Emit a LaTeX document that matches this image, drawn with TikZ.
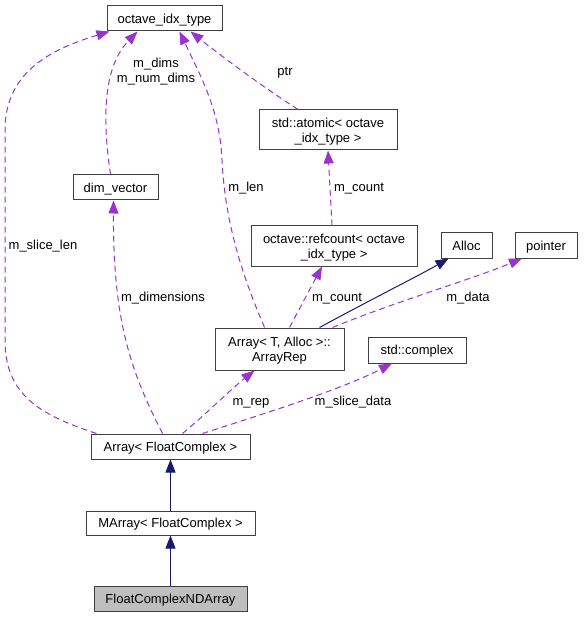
\documentclass[tikz,border=0pt]{standalone}
\usepackage{fontspec}
\setmainfont{Liberation Sans}
\usetikzlibrary{arrows.meta}
\definecolor{membercol}{HTML}{9A32CD}
\definecolor{basecol}{HTML}{191970}
\begin{document}
\begin{tikzpicture}[x=1pt, y=-1pt,
  box/.style={draw=black!75, line width=1pt, fill=white, inner sep=0pt, align=center, font=\fontsize{13}{15}\selectfont, text height=9.5pt, text depth=0pt},
  twoline/.style={text height=24.5pt, text depth=0pt},
  lbl/.style={inner sep=0pt, align=center, font=\fontsize{13}{15}\selectfont, text height=9.5pt, text depth=0pt},
  member/.style={draw=membercol, line width=1pt, dash pattern=on 6pt off 4pt, -{Triangle[length=13pt, width=10pt, fill=membercol]}},
  derived/.style={draw=basecol, line width=1pt, -{Triangle[length=13pt, width=10pt, fill=basecol]}}]
\useasboundingbox (0,0) rectangle (583,617);
\node[box, minimum width=115, minimum height=25] (idx) at (164.5, 18.5) {octave\_idx\_type};
\node[box, twoline, minimum width=138, minimum height=40] (atomic) at (328, 130) {std::atomic< octave\\\_idx\_type >};
\node[box, minimum width=85, minimum height=25] (dimv) at (115.5, 187.5) {dim\_vector};
\node[box, twoline, minimum width=166, minimum height=40] (refc) at (334, 246) {octave::refcount< octave\\\_idx\_type >};
\node[box, minimum width=51, minimum height=25] (alloc) at (466.5, 245.5) {Alloc};
\node[box, minimum width=62, minimum height=25] (ptrn) at (546, 245.5) {pointer};
\node[box, twoline, minimum width=129, minimum height=42] (rep) at (279.5, 349) {Array< T, Alloc >::\\ArrayRep};
\node[box, minimum width=98, minimum height=26] (cplx) at (417, 350) {std::complex};
\node[box, minimum width=159, minimum height=25] (arr) at (170.5, 446.5) {Array< FloatComplex >};
\node[box, minimum width=169, minimum height=24] (marr) at (170.5, 523) {MArray< FloatComplex >};
\node[box, minimum width=153, minimum height=25, fill=black!25] (nda) at (170.5, 598.5) {FloatComplexNDArray};
\draw[member] ([xshift=6]arr.north west) .. controls (40,415) and (5,395) .. (5,340) -- (5,130) .. controls (5,70) and (55,48) .. ([xshift=3]idx.south west);
\draw[member] ([xshift=-5]dimv.north) .. controls (104,130) and (100,70) .. ([xshift=-27]idx.south);
\draw[member] ([xshift=-15]rep.north) .. controls (240,270) and (225,220) .. (222,160) .. controls (220,110) and (200,75) .. ([xshift=15]idx.south);
\draw[member] ([xshift=-30]atomic.north) .. controls (260,85) and (220,55) .. ([xshift=26]idx.south);
\draw[member] ([xshift=-2]refc.north) -- (atomic.south);
\draw[member] ([xshift=10]rep.north) -- ([xshift=-12]refc.south);
\draw[derived] ([xshift=40]rep.north) .. controls (370,300) and (420,275) .. ([xshift=-18]alloc.south);
\draw[member] ([xshift=53]rep.north) .. controls (400,300) and (470,280) .. ([xshift=-24]ptrn.south);
\draw[member] ([xshift=-8]arr.north) .. controls (130,370) and (113,320) .. ([xshift=-2]dimv.south);
\draw[member] ([xshift=12]arr.north) .. controls (205,415) and (230,390) .. ([xshift=-25]rep.south);
\draw[member] ([xshift=32]arr.north) .. controls (260,415) and (340,390) .. ([xshift=-25]cplx.south);
\draw[derived] (marr) -- (arr);
\draw[derived] (nda) -- (marr);
\node[lbl] (lslicelen) at (43, 245) {m\_slice\_len};
\node[lbl, twoline] (ldims) at (156, 70) {m\_dims\\m\_num\_dims};
\node[lbl] (llen) at (246, 187) {m\_len};
\node[lbl] (lptr) at (285, 71) {ptr};
\node[lbl] (lcountA) at (359, 187) {m\_count};
\node[lbl] (lcountB) at (337, 297) {m\_count};
\node[lbl] (ldata) at (468, 297) {m\_data};
\node[lbl] (ldimensions) at (163, 297) {m\_dimensions};
\node[lbl] (lrep) at (251, 401) {m\_rep};
\node[lbl] (lslicedata) at (353, 401) {m\_slice\_data};
\end{tikzpicture}
\end{document}
